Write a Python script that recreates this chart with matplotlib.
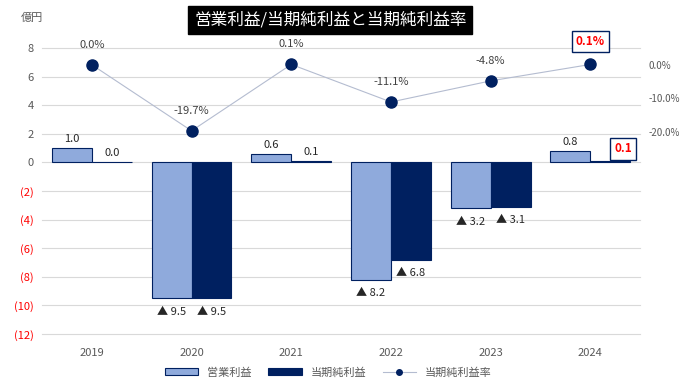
import matplotlib.pyplot as plt
from matplotlib.lines import Line2D
import numpy as np

plt.rcParams['font.family'] = ['Noto Sans CJK JP', 'DejaVu Sans']

years = ['2019', '2020', '2021', '2022', '2023', '2024']
op_profit = [1.0, -9.5, 0.6, -8.2, -3.2, 0.8]
net_profit = [0.0, -9.5, 0.1, -6.8, -3.1, 0.1]
net_margin = [0.0, -19.7, 0.1, -11.1, -4.8, 0.1]

LIGHT = '#8faadc'
NAVY = '#002060'
GRAY = '#595959'

def fmt_val(v):
    if v < 0:
        return f'▲ {abs(v):.1f}'
    return f'{v:.1f}'

fig = plt.figure(figsize=(6.84, 3.86), dpi=100)
ax = fig.add_axes([0.0614, 0.1347, 0.8746, 0.7409])
x = np.arange(len(years))
w = 0.4

ax.bar(x - w / 2, op_profit, w, color=LIGHT, edgecolor=NAVY, linewidth=0.8, label='営業利益', zorder=2)
ax.bar(x + w / 2, net_profit, w, color=NAVY, edgecolor=NAVY, linewidth=0.8, label='当期純利益', zorder=2)

ax.set_xlim(-0.5, len(years) - 0.5)
ax.set_ylim(-12, 8)
ticks = np.arange(-12, 9, 2)
ax.set_yticks(ticks)
ax.set_yticklabels([f'({abs(t)})' if t < 0 else str(t) for t in ticks])
for lbl, t in zip(ax.get_yticklabels(), ticks):
    lbl.set_color('red' if t < 0 else GRAY)
ax.set_xticks(x)
ax.set_xticklabels(years, color=GRAY)
ax.tick_params(axis='both', length=0, labelsize=8, pad=6)
ax.tick_params(axis='x', pad=10)
ax.grid(axis='y', color='#d9d9d9', linewidth=0.8, zorder=0, clip_on=False)
for s in ax.spines.values():
    s.set_visible(False)

# bar labels
for i in range(len(years)):
    for xi, v in ((x[i] - w / 2, op_profit[i]), (x[i] + w / 2, net_profit[i])):
        if i == 5 and v == net_profit[5]:
            ax.annotate(fmt_val(v), (xi + 0.13, v), xytext=(0, 4), textcoords='offset points',
                        ha='center', va='bottom', fontsize=8.5, color='red', fontweight='bold',
                        bbox=dict(boxstyle='square,pad=0.35', fc='white', ec=NAVY, lw=1), zorder=5)
            continue
        if v >= 0:
            ax.annotate(fmt_val(v), (xi, v), xytext=(0, 3), textcoords='offset points',
                        ha='center', va='bottom', fontsize=8, color='#262626')
        else:
            ax.annotate(fmt_val(v), (xi, v), xytext=(0, -6), textcoords='offset points',
                        ha='center', va='top', fontsize=8, color='#262626')

# margin line on right axis
ax2 = ax.twinx()
ax2.plot(x, net_margin, color='#b4bcd0', linewidth=0.8, marker='o', markersize=8,
         markerfacecolor=NAVY, markeredgecolor=NAVY, zorder=3)
ax2.set_ylim(-80.3, 5)
ax2.set_yticks([0, -10, -20])
ax2.set_yticklabels(['0.0%', '-10.0%', '-20.0%'], color=GRAY)
ax2.tick_params(axis='y', length=0, labelsize=7, pad=6)
for s in ax2.spines.values():
    s.set_visible(False)
for i, v in enumerate(net_margin):
    if i == 5:
        ax2.annotate(f'{v:.1f}%', (x[i], v), xytext=(0, 12), textcoords='offset points',
                     ha='center', va='bottom', fontsize=8.5, color='red', fontweight='bold',
                     bbox=dict(boxstyle='square,pad=0.35', fc='white', ec=NAVY, lw=1))
    else:
        ax2.annotate(f'{v:.1f}%', (x[i], v), xytext=(0, 11), textcoords='offset points',
                     ha='center', va='bottom', fontsize=8, color='#404040')

fig.text(0.03, 0.955, '億円', fontsize=8, color=GRAY, ha='left', va='center')
fig.text(0.483, 0.948, '営業利益/当期純利益と当期純利益率', fontsize=12, color='white',
         ha='center', va='center',
         bbox=dict(boxstyle='square,pad=0.35', fc='black', ec='black'))

h1, l1 = ax.get_legend_handles_labels()
line_handle = Line2D([], [], color='#b4bcd0', linewidth=0.8, marker='o', markersize=4,
                     markerfacecolor=NAVY, markeredgecolor=NAVY)
fig.legend(h1 + [line_handle], l1 + ['当期純利益率'], loc='center', bbox_to_anchor=(0.48, 0.035),
           ncol=3, frameon=False, fontsize=8, handlelength=3, handleheight=0.6,
           columnspacing=1.5, labelcolor=GRAY)

fig.savefig('out.png', dpi=100)
